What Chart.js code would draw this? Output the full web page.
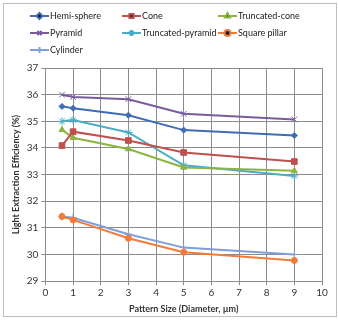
<!DOCTYPE html>
<html>
<head>
<meta charset="utf-8">
<script src="https://cdn.jsdelivr.net/npm/chart.js@4"></script>
<style>
  html, body { margin: 0; padding: 0; background: #fff; }
  #wrap { width: 338px; height: 320px; position: relative; }
</style>
</head>
<body>
<div id="wrap"><canvas id="chart"></canvas></div>
<script>
// pattern sizes (diameter, um)
const sizes = [0.6, 1, 3, 5, 9]

const seriesNames = ['Hemi-sphere', 'Cone', 'Truncated-cone', 'Pyramid', 'Truncated-pyramid', 'Square pillar', 'Cylinder']

const hemiSphere = [35.56, 35.49, 35.23, 34.67, 34.47]
const cone = [34.09, 34.61, 34.28, 33.83, 33.49]
const truncatedCone = [34.68, 34.38, 33.96, 33.27, 33.14]
const pyramid = [36.0, 35.91, 35.83, 35.28, 35.07]
const truncatedPyramid = [35.0, 35.05, 34.58, 33.35, 32.95]
const squarePillar = [31.43, 31.3, 30.61, 30.09, 29.78]
const cylinder = [31.43, 31.38, 30.76, 30.26, 30.0]

const seriesValues = [hemiSphere, cone, truncatedCone, pyramid, truncatedPyramid, squarePillar, cylinder]
const colors = ['#3F6CB5', '#C0504D', '#8DB442', '#7A5C9E', '#4BACC6', '#F37B3A', '#7F9FDB']
const markers = ['rectRot', 'rect', 'triangle', 'crossRot', 'star', 'circle', 'cross']
const markerSizes = [3, 4, 3.5, 4, 4, 3, 4]

const FONT = 'Lato, "Open Sans", sans-serif'

// legend drawn on the canvas in a 3-column grid, like the original
const gridLegend = {
  id: 'gridLegend',
  afterDraw (chart) {
    const ctx = chart.ctx
    const colX = [30, 122, 218]
    const rowY = [16, 33, 50]
    ctx.save()
    // outer frame
    ctx.strokeStyle = '#BFBFBF'
    ctx.lineWidth = 1
    ctx.strokeRect(3.5, 3.5, 333, 313)
    ctx.font = '9px ' + FONT
    ctx.textBaseline = 'middle'
    chart.data.datasets.forEach((ds, i) => {
      const x = colX[i % 3]
      const y = rowY[Math.floor(i / 3)]
      ctx.strokeStyle = ds.borderColor
      ctx.lineWidth = 2
      ctx.beginPath()
      ctx.moveTo(x, y)
      ctx.lineTo(x + 19, y)
      ctx.stroke()
      Chart.helpers.drawPoint(ctx, {
        pointStyle: ds.pointStyle,
        radius: Math.min(ds.pointRadius, 3),
        borderWidth: 1
      }, x + 9.5, y)
      ctx.fillStyle = '#222'
      ctx.fillText(ds.label, x + 20, y + 0.5)
    })
    ctx.restore()
  }
}

new Chart(document.getElementById('chart').getContext('2d'), {
  type: 'line',
  data: {
    datasets: seriesNames.map((name, i) => ({
      label: name,
      data: sizes.map((s, j) => ({ x: s, y: seriesValues[i][j] })),
      borderColor: colors[i],
      backgroundColor: colors[i],
      pointBorderColor: colors[i],
      pointBackgroundColor: colors[i],
      pointStyle: markers[i],
      pointRadius: markerSizes[i],
      pointBorderWidth: 1,
      borderWidth: 2,
      tension: 0
    }))
  },
  options: {
    responsive: true,
    maintainAspectRatio: false,
    animation: false,
    layout: { padding: { top: 68, right: 16, left: 11, bottom: 6 } },
    plugins: {
      legend: { display: false },
      tooltip: { enabled: false }
    },
    scales: {
      x: {
        type: 'linear',
        min: 0,
        max: 10,
        ticks: { stepSize: 1, color: '#333', font: { family: FONT, size: 10 }, padding: 2 },
        grid: { color: '#8C8C8C', tickLength: 4, tickColor: '#8C8C8C' },
        border: { color: '#8C8C8C' },
        title: {
          display: true,
          text: 'Pattern Size (Diameter, µm)',
          color: '#333',
          font: { family: FONT, size: 9, weight: 'bold' },
          padding: { top: 2, bottom: 0 }
        }
      },
      y: {
        min: 29,
        max: 37,
        ticks: { stepSize: 1, color: '#333', font: { family: FONT, size: 10 }, padding: 3 },
        grid: { color: '#8C8C8C', tickLength: 4, tickColor: '#8C8C8C' },
        border: { color: '#8C8C8C' },
        title: {
          display: true,
          text: 'Light Extraction Efficiency (%)',
          color: '#333',
          font: { family: FONT, size: 9, weight: 'bold' },
          padding: { top: 0, bottom: 2 }
        }
      }
    }
  },
  plugins: [gridLegend]
})
</script>
</body>
</html>
